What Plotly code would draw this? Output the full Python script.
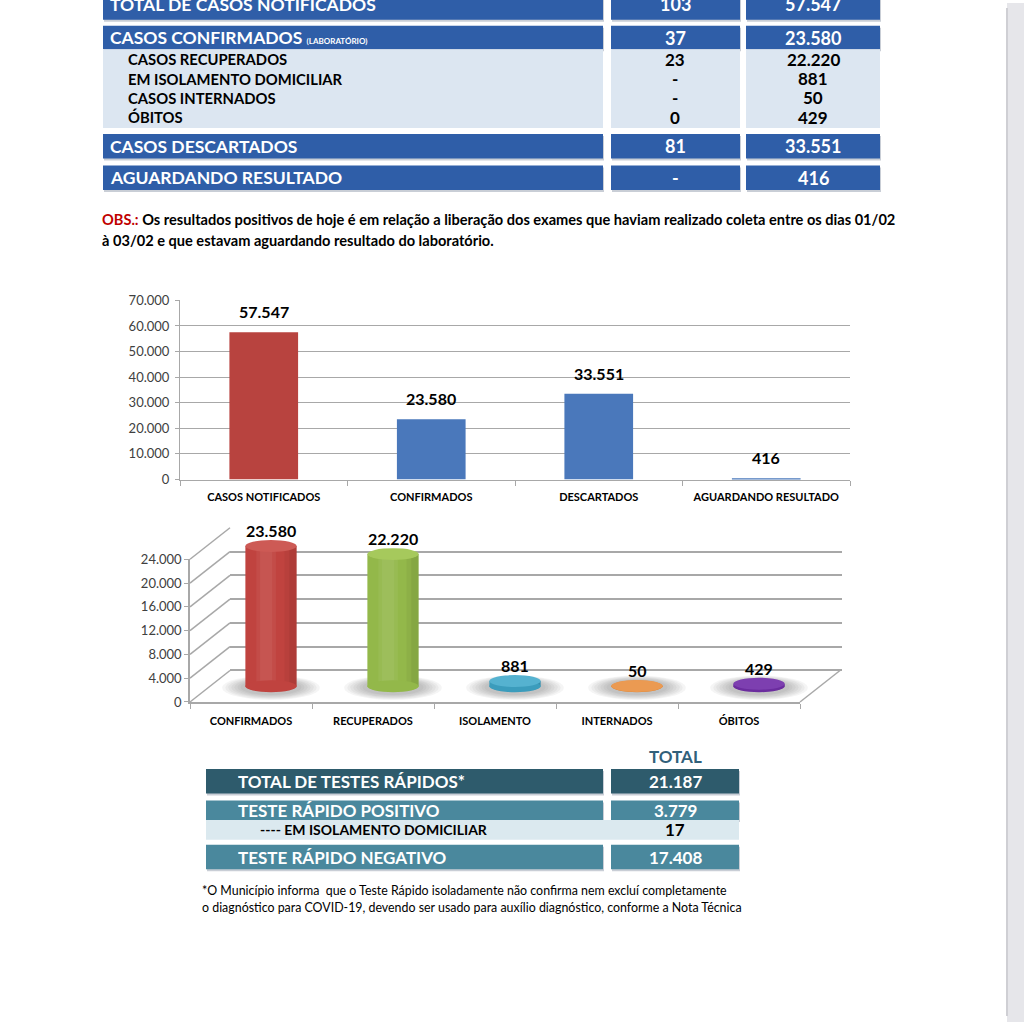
import plotly.graph_objects as go

# ---------------- DATA ----------------
main_labels = ["TOTAL DE CASOS NOTIFICADOS", "CASOS CONFIRMADOS", "CASOS DESCARTADOS", "AGUARDANDO RESULTADO"]
main_suffix = ["", "(LABORATÓRIO)", "", ""]
main_hoje = ["103", "37", "81", "-"]
main_total = [57547, 23580, 33551, 416]

sub_labels = ["CASOS RECUPERADOS", "EM ISOLAMENTO DOMICILIAR", "CASOS INTERNADOS", "ÓBITOS"]
sub_hoje = ["23", "-", "-", "0"]
sub_total = [22220, 881, 50, 429]

obs_line1 = "Os resultados positivos de hoje é em relação a liberação dos exames que haviam realizado coleta entre os dias 01/02"
obs_line2 = "à 03/02 e que estavam aguardando resultado do laboratório."

bar1_cats = ["CASOS NOTIFICADOS", "CONFIRMADOS", "DESCARTADOS", "AGUARDANDO RESULTADO"]
bar1_vals = [57547, 23580, 33551, 416]

bar2_cats = ["CONFIRMADOS", "RECUPERADOS", "ISOLAMENTO", "INTERNADOS", "ÓBITOS"]
bar2_vals = [23580, 22220, 881, 50, 429]

rapid_header = "TOTAL"
rapid_labels = ["TOTAL DE TESTES RÁPIDOS*", "TESTE RÁPIDO POSITIVO", "---- EM ISOLAMENTO DOMICILIAR", "TESTE RÁPIDO NEGATIVO"]
rapid_vals = [21187, 3779, 17, 17408]

foot_line1 = "*O Município informa  que o Teste Rápido isoladamente não confirma nem excluí completamente"
foot_line2 = "o diagnóstico para COVID-19, devendo ser usado para auxílio diagnóstico, conforme a Nota Técnica"

# ---------------- HELPERS / STYLE ----------------
W = H = 1024
def X(px): return px / W
def Y(py): return 1 - py / H
def fmt(v):
    return f"{v:,}".replace(",", ".") if isinstance(v, int) else v

FONT = "Lato"
BLUE = "#2f5ea8"
LIGHT = "#dce6f1"
GRID = "#a8a8a8"

shapes = []
annotations = []

def rect(x0, y0, x1, y1, color, layer="above"):
    shapes.append(dict(type="rect", xref="paper", yref="paper", x0=X(x0), x1=X(x1), y0=Y(y1), y1=Y(y0),
                       fillcolor=color, line=dict(width=0), layer=layer))

def text(x, y, s, size, color="black", anchor="left", bold=True):
    annotations.append(dict(x=X(x), y=Y(y), xref="paper", yref="paper", text=s, showarrow=False,
                            xanchor=anchor, yanchor="middle",
                            font=dict(family=FONT, size=size, color=color, weight=700 if bold else 400)))

# ---------------- TOP TABLE ----------------
cols = [(103, 603), (611, 740), (746, 880)]
main_rows = [(-20, 12), (18, 42), (128, 153), (160, 185)]
band = (42, 122)
sub_cy = [52, 72, 91, 111]

for (y0, y1) in main_rows:
    for (x0, x1) in cols:
        rect(x0 + 1, y0 + 2, x1 + 1, y1 + 2, "#c9ced6")
        rect(x0, y0, x1, y1, BLUE)
for (x0, x1) in cols:
    rect(x0, band[0], x1, band[1], LIGHT)

for i, lab in enumerate(main_labels):
    cy = (main_rows[i][0] + main_rows[i][1]) / 2 if i else -4
    s = lab + (f" <span style='font-size:8px'>{main_suffix[i]}</span>" if main_suffix[i] else "")
    text(108, cy, s, 17.5, "white")
    text(675, cy, main_hoje[i], 18, "white", "center")
    text(813, cy, fmt(main_total[i]), 18, "white", "center")

for i, lab in enumerate(sub_labels):
    text(126, sub_cy[i], lab, 14.8)
    text(675, sub_cy[i], sub_hoje[i], 17, anchor="center")
    text(813, sub_cy[i], fmt(sub_total[i]), 17, anchor="center")

text(100, 215, "<span style='color:#c00000'>OBS.:</span> " + obs_line1, 14.6)
text(100, 236, obs_line2, 14.6)

# ---------------- BOTTOM TABLE ----------------
r_rows = [(773, 798), (805, 825), (825, 845), (850, 875)]
r_fill = ["#2e5b6c", "#4a889d", "#dbe9ef", "#4a889d"]
r_txt = ["white", "white", "black", "white"]
r_lx = [236, 236, 258, 236]
r_lsize = [17, 17, 14, 17]
for i, lab in enumerate(rapid_labels):
    y0, y1 = r_rows[i]
    if i == 2:
        rect(206, y0, 739, y1, r_fill[i])
    else:
        rect(207, y0 + 2, 604, y1 + 2, "#c9ced6")
        rect(612, y0 + 2, 740, y1 + 2, "#c9ced6")
        rect(206, y0, 603, y1, r_fill[i])
        rect(611, y0, 739, y1, r_fill[i])
    cy = (y0 + y1) / 2
    text(r_lx[i], cy, lab, r_lsize[i], r_txt[i])
    text(675, cy, fmt(rapid_vals[i]), 17, r_txt[i], "center")
text(675, 760, rapid_header, 17, "#31607a", "center")

text(200, 897, foot_line1, 12.4, bold=False)
text(200, 914, foot_line2, 12.4, bold=False)

# page edge
rect(1007, -5, 1030, 1030, "#e6e6ea")
shapes.append(dict(type="line", xref="paper", yref="paper", x0=X(1007), x1=X(1007), y0=0, y1=1,
                   line=dict(color="#cfcfd4", width=2)))

# ---------------- FIGURE ----------------
fig = go.Figure()

# Chart 1
fig.add_trace(go.Bar(x=bar1_cats, y=bar1_vals, xaxis="x", yaxis="y",
                     marker=dict(color=["#b8433f", "#4a78bb", "#4a78bb", "#4a78bb"], line=dict(width=0)),
                     hoverinfo="skip"))
for c, v in zip(bar1_cats, bar1_vals):
    annotations.append(dict(x=c, y=v, xref="x", yref="y", text=fmt(v), showarrow=False,
                            yanchor="bottom", yshift=9,
                            font=dict(family=FONT, size=16, color="black", weight=700)))

# Chart 2 geometry (3D look)
S = 145 / 24000          # px per unit
FRONT0, BACK0, MID0 = 705, 673, 689
y2_ticks = [0, 4000, 8000, 12000, 16000, 20000, 24000]

fig.add_trace(go.Scatter(x=bar2_cats, y=bar2_vals, xaxis="x2", yaxis="y2", mode="markers",
                         marker=dict(size=1, opacity=0), hoverinfo="skip"))
fig.add_trace(go.Scatter(x=bar2_cats, y=bar2_vals, xaxis="x3", yaxis="y3", mode="markers",
                         marker=dict(size=1, opacity=0), hoverinfo="skip"))

body = ["#c0433f", "#93b84a", "#3b9cbc", "#de8636", "#6b2c9e"]
top = ["#cd5a55", "#a6c95c", "#55b2d0", "#eb9a52", "#7d3fb0"]
fig.add_trace(go.Bar(x=bar2_cats, y=bar2_vals, xaxis="x4", yaxis="y4", width=0.42,
                     marker=dict(color=body, line=dict(width=0)), hoverinfo="skip"))
# soft cylinder shading (layered translucent strips)
for off, wd, col in [(-0.12, 0.16, "rgba(255,255,255,0.05)"), (-0.09, 0.10, "rgba(255,255,255,0.05)"),
                     (0.11, 0.10, "rgba(0,0,0,0.04)"), (0.15, 0.06, "rgba(0,0,0,0.05)")]:
    fig.add_trace(go.Bar(x=bar2_cats, y=bar2_vals, xaxis="x4", yaxis="y4", width=wd, offset=off,
                         marker=dict(color=col, line=dict(width=0)), hoverinfo="skip"))

h = 1000
for i, v in enumerate(bar2_vals):
    for k in range(7):
        hw = 0.40 - k * 0.025
        shapes.append(dict(type="circle", xref="x4", yref="y4", x0=i - hw, x1=i + hw,
                           y0=-2300 + k * 140, y1=1800 - k * 110,
                           fillcolor="rgba(80,80,80,0.06)", line=dict(width=0), layer="below"))
    shapes.append(dict(type="circle", xref="x4", yref="y4", x0=i - 0.21, x1=i + 0.21, y0=-h, y1=h,
                       fillcolor=body[i], line=dict(width=0)))
    shapes.append(dict(type="circle", xref="x4", yref="y4", x0=i - 0.21, x1=i + 0.21, y0=v - h, y1=v + h,
                       fillcolor=top[i], line=dict(width=0)))
    annotations.append(dict(x=bar2_cats[i], y=v, xref="x4", yref="y4", text=fmt(v), showarrow=False,
                            yanchor="bottom", yshift=4,
                            font=dict(family=FONT, size=16, color="black", weight=700)))

for v in y2_ticks:
    shapes.append(dict(type="line", xref="paper", yref="paper", x0=X(190), x1=X(230),
                       y0=Y(FRONT0 - v * S), y1=Y(BACK0 - v * S), line=dict(color=GRID, width=1.5)))
shapes.append(dict(type="line", xref="paper", yref="paper", x0=X(800), x1=X(840),
                   y0=Y(FRONT0), y1=Y(BACK0), line=dict(color=GRID, width=1.5)))

axis_font = dict(family=FONT, size=13, color="#404040")
cat_font = dict(family=FONT, size=11, color="black", weight=700)

fig.update_layout(
    width=W, height=H, autosize=False, margin=dict(l=0, r=0, t=0, b=0),
    paper_bgcolor="white", plot_bgcolor="rgba(0,0,0,0)", showlegend=False,
    separators=",.", font=dict(family=FONT),
    bargap=0.59, barmode="overlay",
    xaxis=dict(domain=[X(180), X(850)], anchor="y", type="category", showline=True, linecolor=GRID,
               ticks="outside", tickson="boundaries", ticklen=5, tickcolor=GRID, tickfont=cat_font,
               showgrid=False, ticklabelstandoff=7),
    yaxis=dict(domain=[Y(479), Y(297)], anchor="x", range=[0, 70000], dtick=10000, tickformat=",d",
               showgrid=True, gridcolor=GRID, gridwidth=1, showline=True, linecolor=GRID,
               ticks="outside", ticklen=4, tickcolor=GRID, tickfont=axis_font, zeroline=False,
               ticklabelstandoff=3),
    xaxis2=dict(domain=[X(190), X(800)], anchor="y2", type="category", categoryarray=bar2_cats,
                range=[-0.5, 4.5], showline=True, linecolor=GRID, linewidth=1.5,
                ticks="outside", tickson="boundaries", ticklen=5, tickcolor=GRID, tickfont=cat_font,
                showgrid=False, zeroline=False, ticklabelstandoff=8),
    yaxis2=dict(domain=[Y(FRONT0), Y(FRONT0 - 24000 * S)], anchor="x2", range=[0, 24000],
                tickvals=y2_ticks, tickformat=",d", showgrid=False, showline=True, linecolor=GRID,
                linewidth=1.5, ticks="outside", ticklen=4, tickcolor=GRID, tickfont=axis_font,
                zeroline=False),
    xaxis3=dict(domain=[X(230), X(842)], anchor="y3", type="category", range=[-0.5, 4.5],
                visible=False),
    yaxis3=dict(domain=[Y(BACK0), Y(BACK0 - 24000 * S)], anchor="x3", range=[0, 24000],
                tickvals=y2_ticks, showticklabels=False, showgrid=True, gridcolor=GRID, gridwidth=2,
                zeroline=True, zerolinecolor=GRID, zerolinewidth=2, showline=False, ticks=""),
    xaxis4=dict(domain=[X(210), X(820)], anchor="y4", type="category", range=[-0.5, 4.5],
                visible=False),
    yaxis4=dict(domain=[Y(MID0 + 4000 * S), Y(MID0 - 28000 * S)], anchor="x4", range=[-4000, 28000],
                visible=False),
    shapes=shapes, annotations=annotations,
)

fig.write_html("out.html", config={"displayModeBar": False},
               post_script="document.body.style.margin='0';document.body.style.overflow='hidden';")
